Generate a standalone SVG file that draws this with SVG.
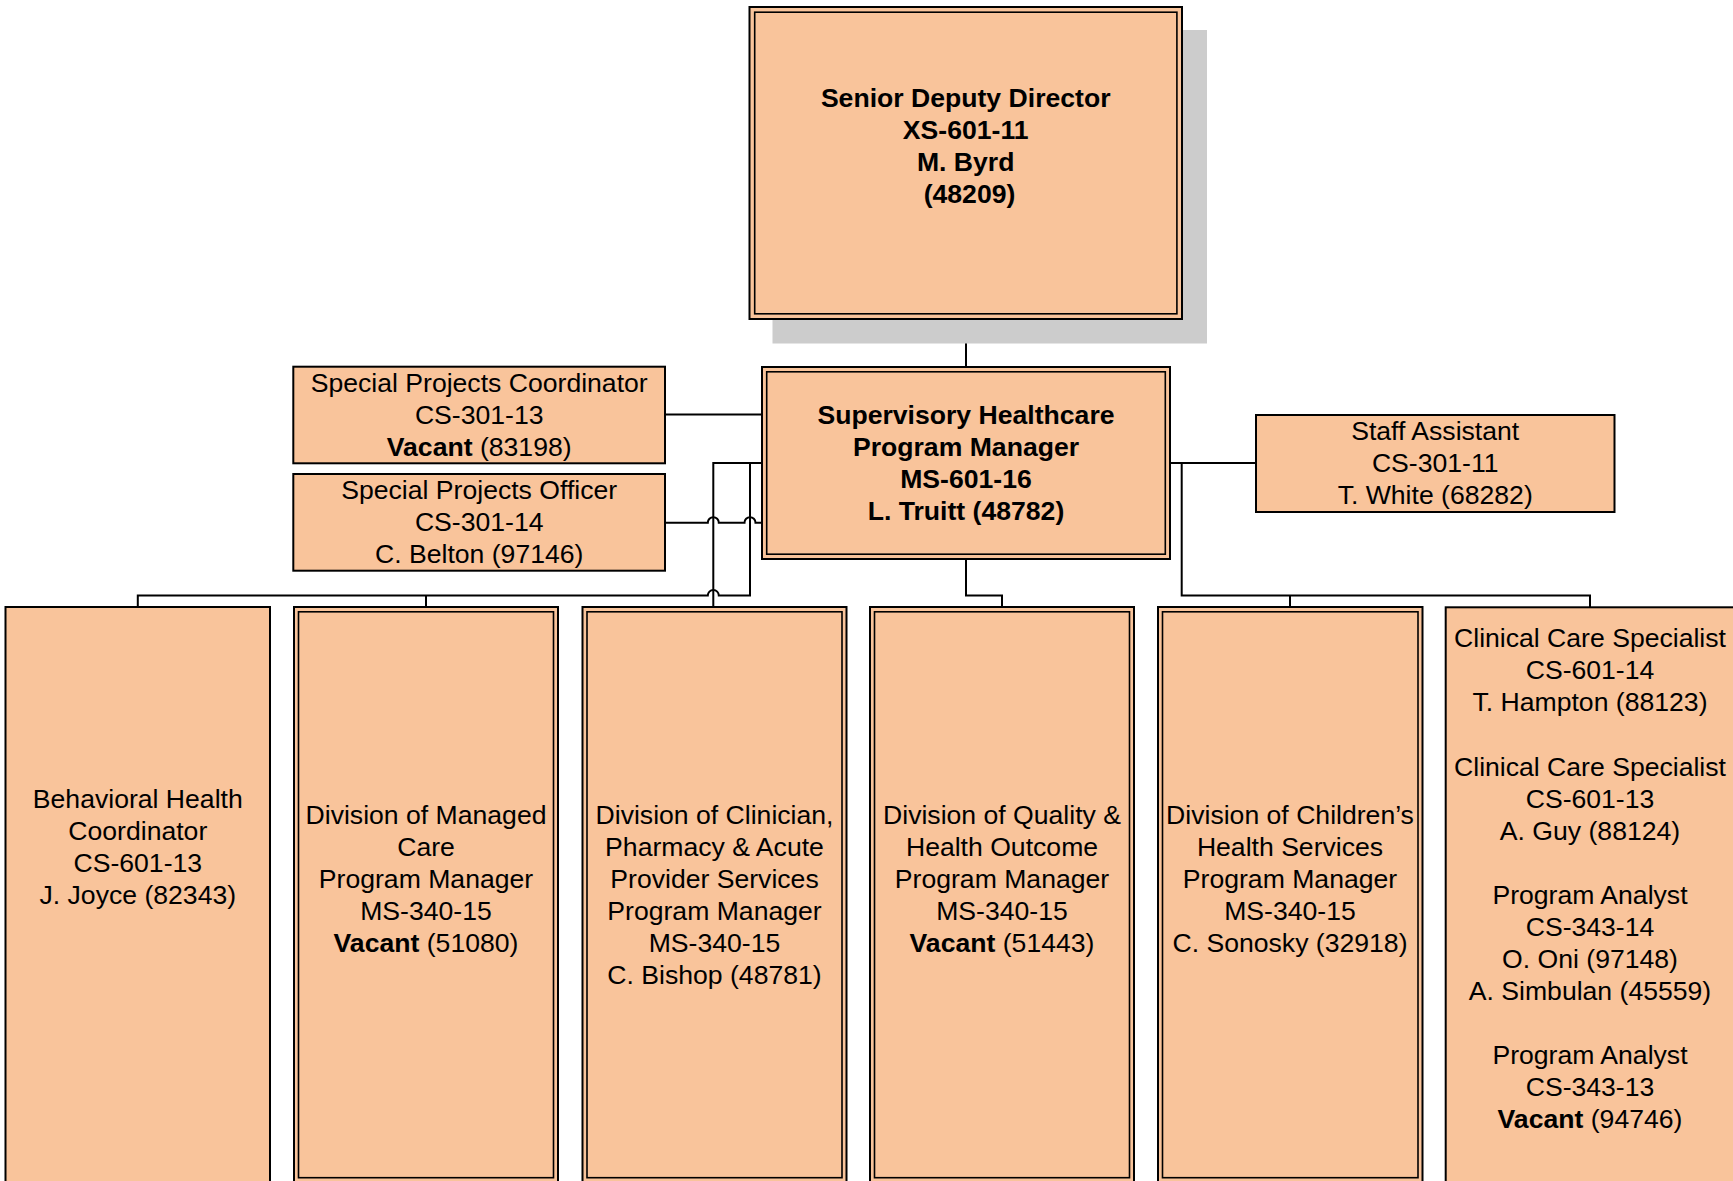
<svg xmlns="http://www.w3.org/2000/svg" width="1733" height="1181" viewBox="0 0 1733 1181">
<style>
  .box { fill: #F9C49B; stroke: #000; stroke-width: 2; }
  .inner { fill: none; stroke: #000; stroke-width: 1.6; }
  .shadow { fill: #CCCCCC; stroke: none; }
  .conn { fill: none; stroke: #000; stroke-width: 2; }
  text { font-family: "Liberation Sans", Arial, sans-serif; font-size: 26.6px; fill: #000; text-anchor: middle; }
  .b { font-weight: bold; }
</style>
<rect width="1733" height="1181" fill="#FFFFFF"/>

<g id="connectors">
  <path class="conn" d="M966,319 V367"/>
  <path class="conn" d="M665,414.5 H762"/>
  <path class="conn" d="M665,522.7 H707.8 a5.5,5.5 0 0 1 11,0 H744.5 a5.5,5.5 0 0 1 11,0 H762"/>
  <path class="conn" d="M762,463 H713.3 V607"/>
  <path class="conn" d="M750,463 V595.5 H718.8 a5.5,5.5 0 0 0 -11,0 H137.8 V607"/>
  <path class="conn" d="M426,595.5 V607"/>
  <path class="conn" d="M966,559 V595.5 H1002 V607"/>
  <path class="conn" d="M1170,463 H1256"/>
  <path class="conn" d="M1181.7,463 V595.5 H1590 V607"/>
  <path class="conn" d="M1290,595.5 V607"/>
</g>

<g id="senior-deputy-director">
  <rect class="shadow" x="772.5" y="30" width="434.5" height="313.5"/>
  <rect class="box" x="749.5" y="7" width="432.5" height="312"/>
  <rect class="inner" x="754.7" y="12.2" width="422.2" height="301.6"/>
  <text class="b" x="965.7" y="107.2">Senior Deputy Director</text>
  <text class="b" x="965.7" y="139.2">XS-601-11</text>
  <text class="b" x="965.7" y="171.2">M. Byrd</text>
  <text class="b" x="969.5" y="203.2">(48209)</text>
</g>

<g id="supervisory-healthcare-program-manager">
  <rect class="box" x="762" y="367" width="408" height="192"/>
  <rect class="inner" x="766.7" y="371.8" width="398.6" height="182.4"/>
  <text class="b" x="966" y="424">Supervisory Healthcare</text>
  <text class="b" x="966" y="456">Program Manager</text>
  <text class="b" x="966" y="488">MS-601-16</text>
  <text class="b" x="966" y="520">L. Truitt (48782)</text>
</g>

<g id="special-projects-coordinator">
  <rect class="box" x="293.3" y="366.7" width="371.7" height="96.6"/>
  <text x="479.2" y="392">Special Projects Coordinator</text>
  <text x="479.2" y="424">CS-301-13</text>
  <text x="479.2" y="456"><tspan class="b">Vacant</tspan> (83198)</text>
</g>

<g id="special-projects-officer">
  <rect class="box" x="293.3" y="474" width="371.7" height="96.7"/>
  <text x="479.2" y="499.3">Special Projects Officer</text>
  <text x="479.2" y="531.3">CS-301-14</text>
  <text x="479.2" y="563.3">C. Belton (97146)</text>
</g>

<g id="staff-assistant">
  <rect class="box" x="1256" y="415" width="358.5" height="97"/>
  <text x="1435.2" y="439.5">Staff Assistant</text>
  <text x="1435.2" y="471.5">CS-301-11</text>
  <text x="1435.2" y="503.5">T. White (68282)</text>
</g>

<g id="behavioral-health-coordinator">
  <rect class="box" x="5.5" y="607" width="264.5" height="590"/>
  <text x="137.8" y="808.3">Behavioral Health</text>
  <text x="137.8" y="840.3">Coordinator</text>
  <text x="137.8" y="872.3">CS-601-13</text>
  <text x="137.8" y="904.3">J. Joyce (82343)</text>
</g>

<g id="division-managed-care">
  <rect class="box" x="294" y="607" width="264" height="576"/>
  <rect class="inner" x="298.5" y="611.8" width="255" height="565.9"/>
  <text x="426" y="823.8">Division of Managed</text>
  <text x="426" y="855.8">Care</text>
  <text x="426" y="887.8">Program Manager</text>
  <text x="426" y="919.8">MS-340-15</text>
  <text x="426" y="951.8"><tspan class="b">Vacant</tspan> (51080)</text>
</g>

<g id="division-clinician-pharmacy">
  <rect class="box" x="582.5" y="607" width="264" height="576"/>
  <rect class="inner" x="587" y="611.8" width="255" height="565.9"/>
  <text x="714.5" y="823.8">Division of Clinician,</text>
  <text x="714.5" y="855.8">Pharmacy &amp; Acute</text>
  <text x="714.5" y="887.8">Provider Services</text>
  <text x="714.5" y="919.8">Program Manager</text>
  <text x="714.5" y="951.8">MS-340-15</text>
  <text x="714.5" y="983.8">C. Bishop (48781)</text>
</g>

<g id="division-quality-health-outcome">
  <rect class="box" x="870" y="607" width="264" height="576"/>
  <rect class="inner" x="874.5" y="611.8" width="255" height="565.9"/>
  <text x="1002" y="823.8">Division of Quality &amp;</text>
  <text x="1002" y="855.8">Health Outcome</text>
  <text x="1002" y="887.8">Program Manager</text>
  <text x="1002" y="919.8">MS-340-15</text>
  <text x="1002" y="951.8"><tspan class="b">Vacant</tspan> (51443)</text>
</g>

<g id="division-childrens-health">
  <rect class="box" x="1158" y="607" width="264.5" height="576"/>
  <rect class="inner" x="1162.5" y="611.8" width="255.5" height="565.9"/>
  <text x="1290" y="823.8">Division of Children’s</text>
  <text x="1290" y="855.8">Health Services</text>
  <text x="1290" y="887.8">Program Manager</text>
  <text x="1290" y="919.8">MS-340-15</text>
  <text x="1290" y="951.8">C. Sonosky (32918)</text>
</g>

<g id="clinical-care-program-staff">
  <rect class="box" x="1445.7" y="607.3" width="288.6" height="590"/>
  <text x="1590" y="647.3">Clinical Care Specialist</text>
  <text x="1590" y="679.4">CS-601-14</text>
  <text x="1590" y="711.4">T. Hampton (88123)</text>
  <text x="1590" y="775.5">Clinical Care Specialist</text>
  <text x="1590" y="807.6">CS-601-13</text>
  <text x="1590" y="839.6">A. Guy (88124)</text>
  <text x="1590" y="903.7">Program Analyst</text>
  <text x="1590" y="935.8">CS-343-14</text>
  <text x="1590" y="967.8">O. Oni (97148)</text>
  <text x="1590" y="999.9">A. Simbulan (45559)</text>
  <text x="1590" y="1064">Program Analyst</text>
  <text x="1590" y="1096">CS-343-13</text>
  <text x="1590" y="1128.2"><tspan class="b">Vacant</tspan> (94746)</text>
</g>
</svg>
